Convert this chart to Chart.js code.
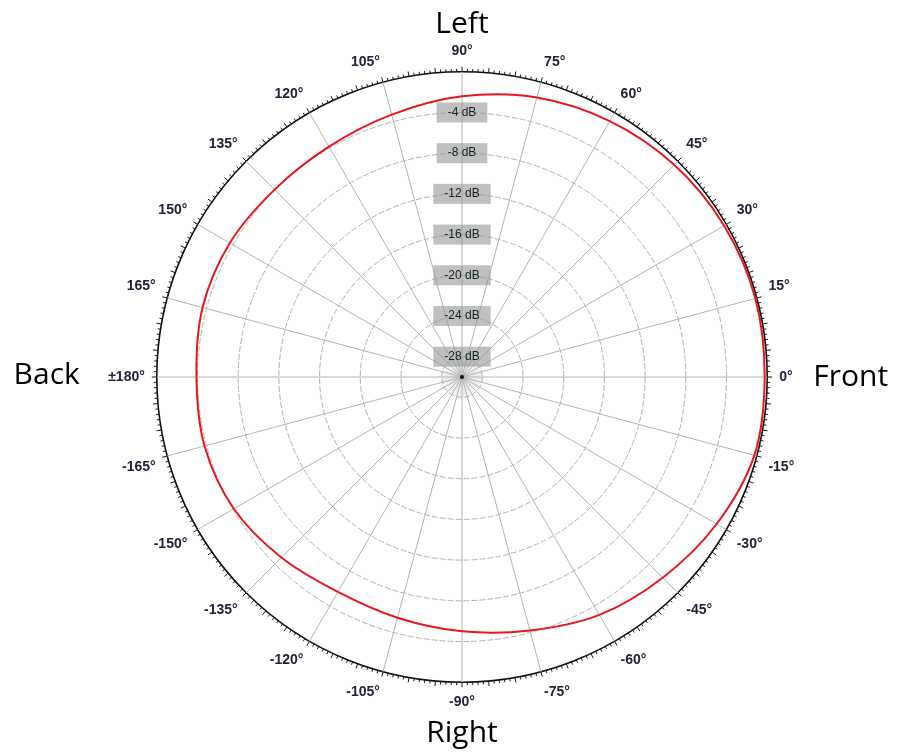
<!DOCTYPE html>
<html>
<head>
<meta charset="utf-8">
<title>Polar pattern</title>
<script src="https://cdn.jsdelivr.net/npm/chart.js@4.4.1/dist/chart.umd.min.js"></script>
<style>
  html, body { margin: 0; padding: 0; background: #fff; }
  #wrap { width: 898px; height: 755px; }
</style>
</head>
<body>
<div id="wrap"><canvas id="polarChart" width="898" height="755"></canvas></div>
<script>
// angles in plot order (clockwise from the top), 0 = Front, 90 = Left
const angles = [90, 75, 60, 45, 30, 15, 0, -15, -30, -45, -60, -75, -90, -105, -120, -135, -150, -165, 180, 165, 150, 135, 120, 105]
// level at each angle (dB)
const responseDb = [-2.4, -1.55, -0.95, -0.5, -0.25, -0.15, -0.25, -0.25, -1.1, -2.1, -3.0, -4.2, -5.0, -5.5, -5.6, -4.9, -4.1, -3.8, -3.9, -3.6, -3.65, -3.95, -3.85, -3.3]
const dbTicks = [-28, -24, -20, -16, -12, -8, -4]
const dbMin = -30
const dbMax = 0

const angleLabels = angles.map(a => a === 180 ? '±180°' : a + '°')

// degree ticks around the rim, fine spokes in the centre, side names
const rimTicks = {
  id: 'rimTicks',
  beforeDraw(chart) {
    const scale = chart.scales.r
    const ctx = chart.ctx
    const n = angles.length
    const outer = scale.getDistanceFromCenterForValue(dbMax)
    const inner = scale.getDistanceFromCenterForValue(dbTicks[0])
    ctx.save()
    ctx.strokeStyle = '#d6d6d6'
    ctx.lineWidth = 0.6
    for (let d = 0; d < 360; d += 5) {
      const p = scale.getPointPosition(d * n / 360, inner)
      ctx.beginPath()
      ctx.moveTo(scale.xCenter, scale.yCenter)
      ctx.lineTo(p.x, p.y)
      ctx.stroke()
    }
    ctx.strokeStyle = '#1a1a1a'
    ctx.lineWidth = 1
    for (let d = 0; d < 360; d++) {
      const len = d % 5 === 0 ? 5 : 3
      const a = scale.getPointPosition(d * n / 360, outer)
      const b = scale.getPointPosition(d * n / 360, outer + len)
      ctx.beginPath()
      ctx.moveTo(a.x, a.y)
      ctx.lineTo(b.x, b.y)
      ctx.stroke()
    }
    ctx.restore()
  },
  afterDraw(chart) {
    const scale = chart.scales.r
    const ctx = chart.ctx
    const xc = scale.xCenter
    const yc = scale.yCenter
    const r = scale.drawingArea
    ctx.save()
    ctx.fillStyle = '#111'
    ctx.beginPath()
    ctx.arc(xc, yc, 2, 0, Math.PI * 2)
    ctx.fill()
    ctx.fillStyle = '#000'
    ctx.font = '30px "Open Sans"'
    ctx.textBaseline = 'alphabetic'
    ctx.textAlign = 'center'
    ctx.fillText('Left', xc, yc - r - 39)
    ctx.fillText('Right', xc, yc + r + 60)
    ctx.textAlign = 'left'
    ctx.fillText('Front', xc + r + 46, yc + 9)
    ctx.textAlign = 'right'
    ctx.fillText('Back', xc - r - 77, yc + 7)
    ctx.restore()
  }
}

const ctxPolar = document.getElementById('polarChart').getContext('2d')
const polarChart = new Chart(ctxPolar, {
  type: 'radar',
  data: {
    labels: angleLabels,
    datasets: [{
      label: 'Response',
      data: responseDb,
      borderColor: '#e8161e',
      borderWidth: 2,
      pointRadius: 0,
      pointHoverRadius: 0,
      fill: false,
      tension: 0.33
    }]
  },
  options: {
    responsive: false,
    devicePixelRatio: 1,
    animation: false,
    layout: { padding: { top: 43, bottom: 44, left: 27, right: 0 } },
    plugins: {
      legend: { display: false },
      tooltip: { enabled: false }
    },
    scales: {
      r: {
        min: dbMin,
        max: dbMax,
        startAngle: 0,
        afterBuildTicks: scale => {
          scale.ticks = [dbMin, ...dbTicks, dbMax].map(v => ({ value: v }))
        },
        grid: {
          circular: true,
          color: ctx => ctx.tick.value === dbMax ? '#111111' : (ctx.tick.value === dbMin ? 'rgba(0,0,0,0)' : '#b2b2b2'),
          lineWidth: ctx => ctx.tick.value === dbMax ? 1.6 : 1
        },
        border: {
          dash: ctx => (ctx.tick && ctx.tick.value === dbMax) ? [] : [6, 2]
        },
        angleLines: { color: '#b4b4b4', lineWidth: 1 },
        ticks: {
          display: true,
          callback: v => (v === dbMin || v === dbMax) ? '' : v + ' dB',
          color: '#142424',
          font: { family: 'Liberation Sans', size: 12 },
          showLabelBackdrop: ctx => ctx.tick.value > dbMin && ctx.tick.value < dbMax,
          backdropColor: 'rgba(150, 150, 150, 0.6)',
          backdropPadding: { x: 11, y: 4 }
        },
        pointLabels: {
          display: true,
          padding: 2,
          color: '#22223a',
          font: { family: 'Liberation Sans', size: 14, weight: 'bold' }
        }
      }
    }
  },
  plugins: [rimTicks]
})
</script>
</body>
</html>
